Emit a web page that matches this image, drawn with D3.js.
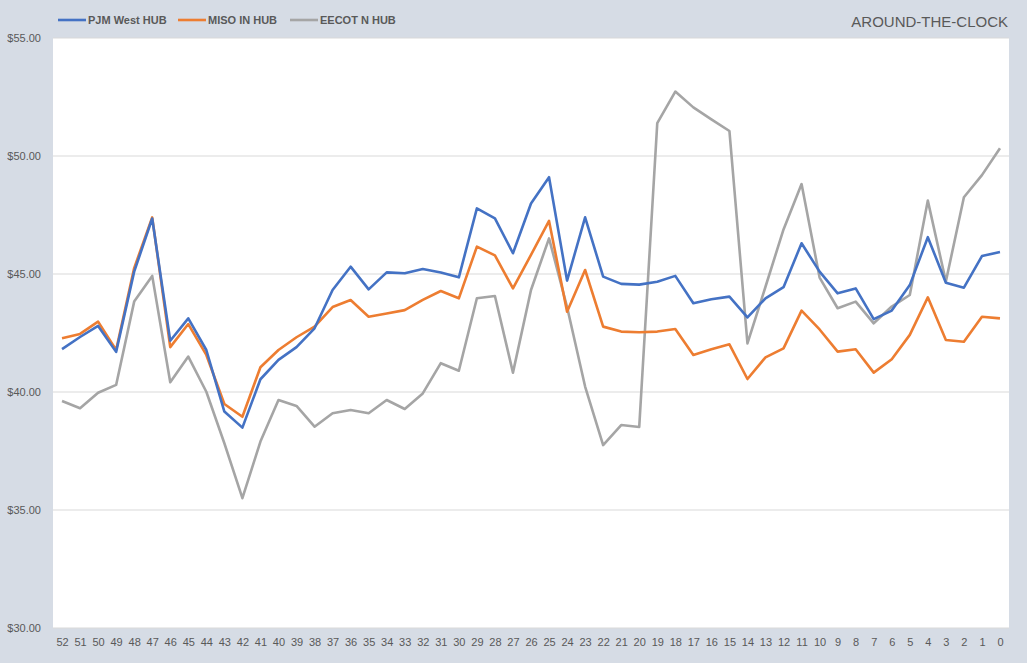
<!DOCTYPE html>
<html><head><meta charset="utf-8">
<script src="https://cdn.jsdelivr.net/npm/d3@7"></script>
<style>body{margin:0;background:#D6DCE5;}svg{display:block;}</style>
</head><body>
<svg id="c" width="1027" height="663"></svg>
<script>
const weeks = d3.range(52, -1, -1).map(String);
const pjm = [41.82,42.33,42.8,41.7,45.1,47.35,42.17,43.12,41.78,39.17,38.49,40.54,41.36,41.9,42.7,44.32,45.31,44.35,45.07,45.03,45.21,45.06,44.86,47.78,47.36,45.88,47.99,49.1,44.72,47.4,44.89,44.58,44.55,44.67,44.92,43.76,43.93,44.04,43.16,43.97,44.44,46.3,45.1,44.18,44.39,43.09,43.45,44.53,46.56,44.63,44.42,45.76,45.93];
const miso = [42.28,42.46,42.98,41.78,45.25,47.4,41.9,42.88,41.57,39.49,38.95,41.05,41.78,42.32,42.77,43.6,43.9,43.19,43.33,43.47,43.9,44.28,43.97,46.16,45.79,44.39,45.81,47.25,43.4,45.17,42.77,42.56,42.53,42.56,42.67,41.57,41.81,42.02,40.55,41.47,41.85,43.45,42.65,41.71,41.81,40.82,41.39,42.42,44.01,42.2,42.13,43.19,43.12];
const eecot = [39.62,39.31,39.97,40.3,43.83,44.92,40.41,41.5,40.01,37.83,35.5,37.9,39.66,39.41,38.53,39.1,39.24,39.1,39.66,39.28,39.94,41.22,40.9,43.97,44.07,40.82,44.32,46.51,43.6,40.23,37.75,38.6,38.52,51.39,52.73,52.06,51.55,51.06,42.06,44.46,46.89,48.81,44.85,43.55,43.83,42.91,43.62,44.11,48.11,44.68,48.25,49.19,50.33];
const yTicks = [30,35,40,45,50,55];
const seriesNames = ["PJM West HUB","MISO IN HUB","EECOT N HUB"];
const colors = ["#4472C4","#ED7D31","#A5A5A5"];
const title = "AROUND-THE-CLOCK";

const svg = d3.select("#c");
const font = "'Liberation Sans', Arial, sans-serif";
const m = {l:53, r:18, t:38, b:35};
const W = 1027, H = 663;

svg.append("rect").attr("width",W).attr("height",H).attr("fill","#D6DCE5");
svg.append("rect").attr("x",m.l).attr("y",m.t).attr("width",W-m.l-m.r).attr("height",H-m.t-m.b).attr("fill","#fff");

const x = d3.scalePoint().domain(weeks).range([m.l, W-m.r]).padding(0.5);
const y = d3.scaleLinear().domain([30,55]).range([H-m.b, m.t]);

// grid
svg.append("g").selectAll("line").data(yTicks).join("line")
  .attr("x1",m.l).attr("x2",W-m.r).attr("y1",d=>y(d)).attr("y2",d=>y(d))
  .attr("stroke","#D9D9D9").attr("stroke-width",1);

// y axis labels
const yAxis = d3.axisLeft(y).tickValues(yTicks).tickFormat(d=>"$"+d3.format(".2f")(d)).tickSize(0).tickPadding(12);
const gy = svg.append("g").attr("transform",`translate(${m.l},0)`).call(yAxis);
gy.select(".domain").remove();
gy.selectAll("text").attr("font-family",font).attr("font-size",11).attr("fill","#595959");

// x axis labels
const xAxis = d3.axisBottom(x).tickSize(0).tickPadding(10);
const gx = svg.append("g").attr("transform",`translate(0,${H-m.b})`).call(xAxis);
gx.select(".domain").remove();
gx.selectAll("text").attr("font-family",font).attr("font-size",11).attr("fill","#595959");

const line = d3.line().x((d,i)=>x(weeks[i])).y(d=>y(d));
[pjm, miso, eecot].slice().reverse().forEach((s,ri)=>{
  const i = 2-ri;
  svg.append("path").datum(s).attr("d",line).attr("fill","none")
    .attr("stroke",colors[i]).attr("stroke-width",2.6).attr("stroke-linejoin","round");
});

// legend
const lx = [58,178,290];
seriesNames.forEach((n,i)=>{
  const g = svg.append("g").attr("transform",`translate(${lx[i]},20)`);
  g.append("line").attr("x1",0).attr("x2",28).attr("y1",0).attr("y2",0).attr("stroke",colors[i]).attr("stroke-width",2.6);
  g.append("text").attr("x",30).attr("y",4).text(n).attr("font-family",font).attr("font-size",11).attr("font-weight","bold").attr("fill","#595959");
});

svg.append("text").attr("x",1008).attr("y",27).attr("text-anchor","end").text(title)
  .attr("font-family",font).attr("font-size",15).attr("fill","#595959");
</script>
</body></html>
